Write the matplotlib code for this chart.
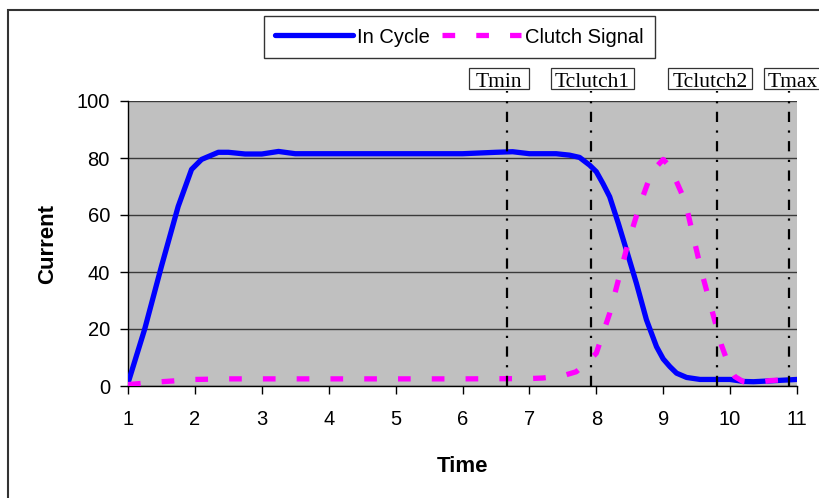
import matplotlib
matplotlib.use("Agg")
import matplotlib.pyplot as plt
from matplotlib.patches import Rectangle
from matplotlib.transforms import IdentityTransform

# In Cycle current trace
cycle_time = [1.0, 1.25, 1.5, 1.75, 1.95, 2.1, 2.35, 2.5, 2.75, 3.0, 3.25, 3.5,
              4.0, 5.0, 6.0, 6.5, 6.75, 7.0, 7.4, 7.6, 7.75, 7.9, 8.0, 8.1,
              8.2, 8.33, 8.48, 8.6, 8.75, 8.9, 9.0, 9.1, 9.2, 9.35, 9.55,
              10.0, 10.2, 10.35, 10.6, 11.0]
cycle_current = [1, 20, 42, 63, 76, 79.5, 82, 82, 81.4, 81.4, 82.3, 81.5,
                 81.5, 81.5, 81.5, 82, 82.2, 81.5, 81.5, 81, 80.2, 77.5, 75.2, 71,
                 66.4, 57, 45.4, 36, 23.2, 13.8, 9.5, 6.8, 4.5, 3, 2.3,
                 2.3, 1.6, 1.5, 1.8, 2.3]

# Clutch signal trace
clutch_time = [1.0, 1.5, 2.0, 2.5, 3.0, 4.0, 5.0, 6.0, 7.0, 7.2, 7.5, 7.7,
               7.85, 8.0, 8.2, 8.33, 8.48, 8.65, 8.83, 9.0, 9.1, 9.33, 9.45,
               9.58, 9.72, 9.87, 10.0, 10.07, 10.2, 10.34, 10.6, 11.0]
clutch_current = [0.5, 1.5, 2.3, 2.5, 2.5, 2.5, 2.5, 2.5, 2.6, 2.8, 3.6, 5,
                  8, 11.5, 25.5, 37.2, 50.6, 63.5, 75.2, 79.5, 77, 64.7, 52.4,
                  39.5, 27.3, 14.4, 6, 3.3, 1.5, 1, 1.9, 2.5]

# Marker times and where their captions sit
marker_names = ["Tmin", "Tclutch1", "Tclutch2", "Tmax"]
marker_times = [6.66, 7.92, 9.80, 10.88]
marker_label_x = [6.546, 7.94, 9.70, 10.94]
marker_box_pad = [7, 4, 4, 4]   # horizontal padding of caption boxes, px

x_ticks = list(range(1, 12))
y_ticks = [0, 20, 40, 60, 80, 100]

fig = plt.figure(figsize=(8.2, 4.98), dpi=100)
fig.patch.set_facecolor("white")
ax = fig.add_axes([128 / 820, 112 / 498, 669 / 820, 285 / 498])
ax.set_facecolor("#C0C0C0")

sans = "Liberation Sans"
serif = "Liberation Serif"

l1, = ax.plot(cycle_time, cycle_current, color="#0000FF", lw=3.8,
              solid_capstyle="round", solid_joinstyle="round", zorder=4,
              label="In Cycle")
l2, = ax.plot(clutch_time, clutch_current, color="#FF00FF", lw=3.8,
              dashes=(2.4, 4.0), dash_capstyle="butt", zorder=5,
              label="Clutch Signal")

captions = []
for name, t, lx in zip(marker_names, marker_times, marker_label_x):
    ax.plot([t, t], [0, 103.5], color="black", lw=1.6,
            dashes=(4.6, 3.8, 1.0, 3.8), clip_on=False, zorder=6)
    captions.append(ax.text(lx, 105.0, name, ha="center", va="baseline",
                            fontsize=15.5, family=serif, clip_on=False, zorder=7))

ax.set_xlim(1, 11)
ax.set_ylim(0, 100)
ax.set_xticks(x_ticks)
ax.set_yticks(y_ticks)
ax.set_xticklabels([str(v) for v in x_ticks], family=sans, fontsize=14.5)
ax.set_yticklabels([str(v) for v in y_ticks], family=sans, fontsize=14.5)
ax.tick_params(direction="out", length=6, width=1, color="black", pad=7)
ax.tick_params(axis="x", pad=11)

ax.yaxis.grid(True, color="#3a3a3a", lw=1.0)
ax.set_axisbelow(True)
for s in ["top", "right"]:
    ax.spines[s].set_visible(False)
for s in ["left", "bottom"]:
    ax.spines[s].set_color("black")
    ax.spines[s].set_linewidth(1.0)

ax.set_xlabel("Time", family=sans, fontsize=16, fontweight="bold", labelpad=20)
ax.set_ylabel("Current", family=sans, fontsize=16, fontweight="bold", labelpad=13)

leg = fig.legend(handles=[l1, l2], loc="center", bbox_to_anchor=(0.560, 0.9257),
                 ncol=2, frameon=True, fancybox=False, framealpha=1,
                 edgecolor="#333333", prop={"family": sans, "size": 14.5},
                 handlelength=3.9, handletextpad=0.2, columnspacing=0.6,
                 borderpad=0.55, borderaxespad=0)
leg.get_frame().set_linewidth(1.0)

# Boxes round the marker captions, sized from the rendered text
fig.canvas.draw()
renderer = fig.canvas.get_renderer()
for txt, pad in zip(captions, marker_box_pad):
    ext = txt.get_window_extent(renderer)
    base_y = ax.transData.transform(txt.get_position())[1]
    box = Rectangle((ext.x0 - pad, base_y - 2.6), ext.width + 2 * pad, 21,
                    transform=IdentityTransform(), facecolor="white",
                    edgecolor="#333333", lw=0.9, clip_on=False, zorder=6.5)
    ax.add_patch(box)

# Outer chart border
fig.patches.append(Rectangle((8 / 820, -0.05), 1.2, 1.05 - 10 / 498,
                             transform=fig.transFigure, fill=False,
                             edgecolor="#333333", lw=1.5))

fig.savefig("out.png", dpi=100, facecolor="white")
